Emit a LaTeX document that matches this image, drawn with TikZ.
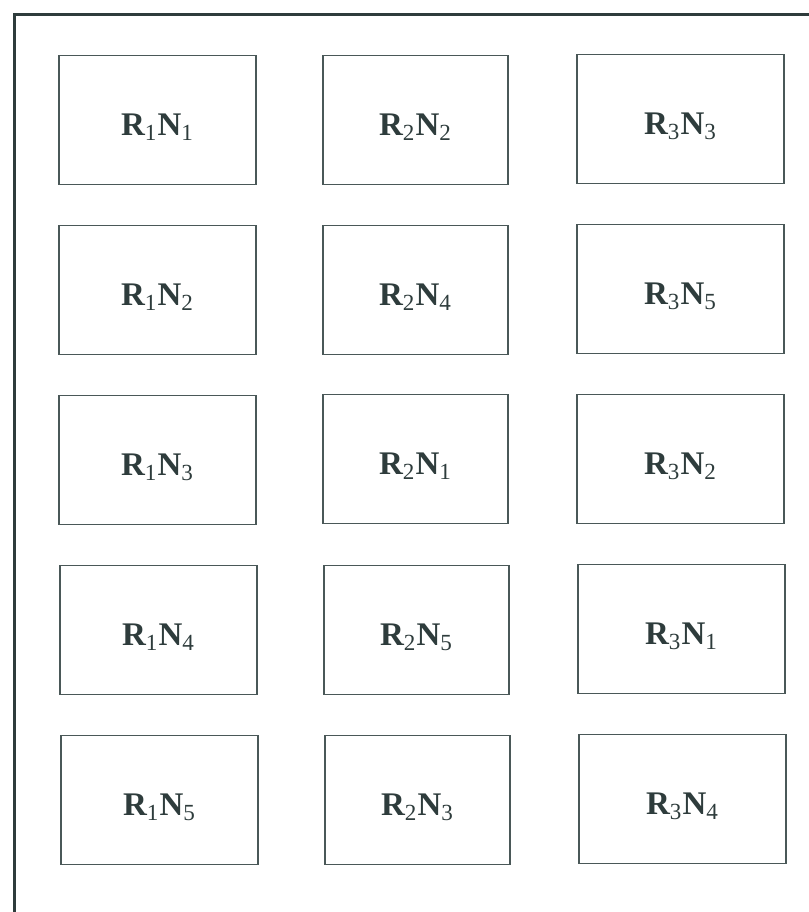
\documentclass[tikz,border=0pt]{standalone}
\usepackage{fontspec}
\setmainfont{Liberation Serif}
\usepackage{tikz}
\usetikzlibrary{positioning}
\definecolor{inkgrey}{HTML}{2E3C3C}
\definecolor{boxgrey}{HTML}{4A5858}
\newcommand{\RN}[2]{R\textsubscript{\mdseries #1}N\textsubscript{\mdseries #2}}

\begin{document}
\begin{tikzpicture}[
  x=0.5pt, y=-0.5pt,
  cell/.style={draw=boxgrey, line width=0.7pt, minimum height=64.5pt, inner sep=0pt,
    text height=17pt, text depth=2pt,
    text=inkgrey, font=\fontsize{16.5}{19}\selectfont\bfseries},
  colA/.style={cell, minimum width=98.5pt},
  colB/.style={cell, minimum width=92.5pt},
  colC/.style={cell, minimum width=103.5pt},
  frame/.style={draw=inkgrey, line width=1.5pt}
]
\useasboundingbox (0,0) rectangle (809,912);
\coordinate (fbot) at (14,912);
\coordinate (fright) at (809,14);
\draw[frame] (fbot) |- (fright);

\node[colA] (r1n1) at (157.5,120) {\RN{1}{1}};
\node[colB] (r2n2) at (415.5,120) {\RN{2}{2}};
\node[colC] (r3n3) at (680.5,119) {\RN{3}{3}};

\node[colA] (r1n2) at (157.5,290) {\RN{1}{2}};
\node[colB] (r2n4) at (415.5,290) {\RN{2}{4}};
\node[colC] (r3n5) at (680.5,289) {\RN{3}{5}};

\node[colA] (r1n3) at (157.5,460) {\RN{1}{3}};
\node[colB] (r2n1) at (415.5,459) {\RN{2}{1}};
\node[colC] (r3n2) at (680.5,459) {\RN{3}{2}};

\node[colA] (r1n4) at (158.5,630) {\RN{1}{4}};
\node[colB] (r2n5) at (416.5,630) {\RN{2}{5}};
\node[colC] (r3n1) at (681.5,629) {\RN{3}{1}};

\node[colA] (r1n5) at (159.5,800) {\RN{1}{5}};
\node[colB] (r2n3) at (417.5,800) {\RN{2}{3}};
\node[colC] (r3n4) at (682.5,799) {\RN{3}{4}};
\end{tikzpicture}
\end{document}
